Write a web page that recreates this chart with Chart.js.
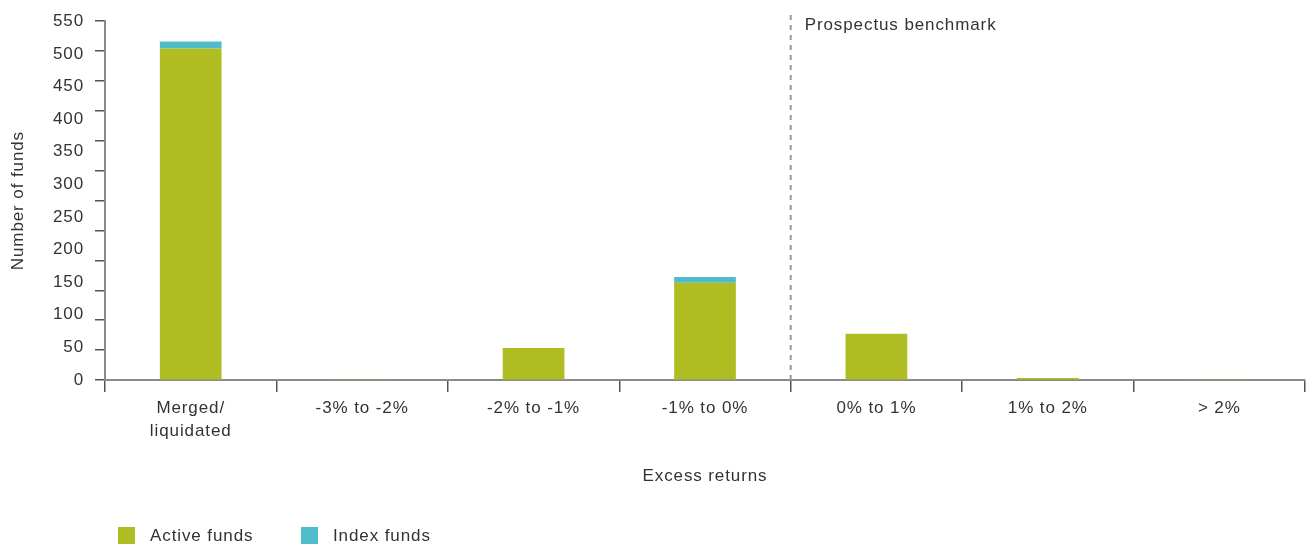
<!DOCTYPE html>
<html>
<head>
<meta charset="utf-8">
<script src="https://cdn.jsdelivr.net/npm/chart.js@4/dist/chart.umd.min.js"></script>
<style>
  html, body { margin: 0; padding: 0; background: #fff; }
  #wrap { width: 1314px; height: 548px; position: relative; }
</style>
</head>
<body>
<div id="wrap"><canvas id="c" width="1314" height="548"></canvas></div>
<script>
const categories = [["Merged/", "liquidated"], "-3% to -2%", "-2% to -1%", "-1% to 0%", "0% to 1%", "1% to 2%", "> 2%"];
const activeFunds = [508, 1, 49, 149, 71, 3, 1];
const indexFunds = [11, 0, 0, 9, 0, 0, 0];
const yTicks = [0, 50, 100, 150, 200, 250, 300, 350, 400, 450, 500, 550];
const seriesNames = ["Active funds", "Index funds"];
const benchmarkLabel = "Prospectus benchmark";

const FONT = "'Liberation Sans', Arial, sans-serif";
const FS = 17;
const SPACING = "0.9px";
const TEXT = "#333333";
const AXIS = "#8a8a8a";
const COLORS = ["#AFBD22", "#4FBDC9"];

const spacing = {
  id: 'spacing',
  beforeLayout(chart) { chart.ctx.letterSpacing = SPACING; },
  beforeDraw(chart) { chart.ctx.letterSpacing = SPACING; }
};

const extras = {
  id: 'extras',
  afterDraw(chart) {
    const ctx = chart.ctx;
    const x = chart.scales.x;
    const area = chart.chartArea;
    const bx = (x.getPixelForValue(3) + x.getPixelForValue(4)) / 2;
    ctx.save();
    ctx.letterSpacing = SPACING;
    ctx.strokeStyle = "#999999";
    ctx.lineWidth = 2;
    ctx.setLineDash([5, 5]);
    ctx.beginPath();
    ctx.moveTo(bx, 15);
    ctx.lineTo(bx, area.bottom);
    ctx.stroke();
    ctx.setLineDash([]);
    ctx.fillStyle = TEXT;
    ctx.font = FS + "px " + FONT;
    ctx.textBaseline = "middle";
    ctx.textAlign = "left";
    ctx.fillText(benchmarkLabel, bx + 14, 25);
    const positions = [118, 301];
    chart.data.datasets.forEach((ds, i) => {
      const lx = positions[i];
      ctx.fillStyle = ds.backgroundColor;
      ctx.fillRect(lx, 527, 17, 17);
      ctx.fillStyle = TEXT;
      ctx.fillText(ds.label, lx + 32, 536);
    });
    ctx.restore();
  }
};

new Chart(document.getElementById('c'), {
  type: 'bar',
  data: {
    labels: categories,
    datasets: [
      { label: seriesNames[0], data: activeFunds, backgroundColor: COLORS[0], borderWidth: 0, barPercentage: 0.36, categoryPercentage: 1, yAxisID: 'y' },
      { label: seriesNames[1], data: indexFunds, backgroundColor: COLORS[1], borderWidth: 0, barPercentage: 0.36, categoryPercentage: 1, yAxisID: 'y' }
    ]
  },
  options: {
    responsive: false,
    animation: false,
    layout: { padding: { left: 0, right: 9, top: 17, bottom: 58 } },
    plugins: { legend: { display: false }, tooltip: { enabled: false } },
    scales: {
      x: {
        stacked: true,
        offset: true,
        grid: { offset: true, drawOnChartArea: false, drawTicks: true, tickLength: 12, color: "#555555", lineWidth: 1.5 },
        border: { display: true, color: AXIS, width: 2 },
        ticks: { color: TEXT, font: { family: FONT, size: FS, lineHeight: 1.35 }, padding: 5, maxRotation: 0, autoSkip: false },
        title: { display: true, text: "Excess returns", color: TEXT, font: { family: FONT, size: FS }, padding: { top: 4, bottom: 3 } },
        afterFit(s) { s.height = 110; }
      },
      y: {
        stacked: true,
        position: 'left',
        weight: 1,
        min: 0, max: 550,
        afterBuildTicks(s) { s.ticks = yTicks.map(v => ({ value: v })); },
        grid: { drawOnChartArea: false, drawTicks: false },
        border: { display: false },
        ticks: { color: TEXT, font: { family: FONT, size: FS }, padding: 11 },
        title: { display: true, text: "Number of funds", color: TEXT, font: { family: FONT, size: FS }, padding: 8 },
        afterFit(s) { s.width = 95; }
      },
      y2: {
        position: 'left',
        weight: 0,
        min: 0, max: 600,
        ticks: { display: false, stepSize: 50 },
        grid: { drawOnChartArea: false, drawTicks: true, tickLength: 10, color: "#555555", lineWidth: 1.5 },
        border: { display: true, color: AXIS, width: 2 },
        afterFit(s) { s.width = 10; }
      }
    }
  },
  plugins: [spacing, extras]
});
</script>
</body>
</html>
